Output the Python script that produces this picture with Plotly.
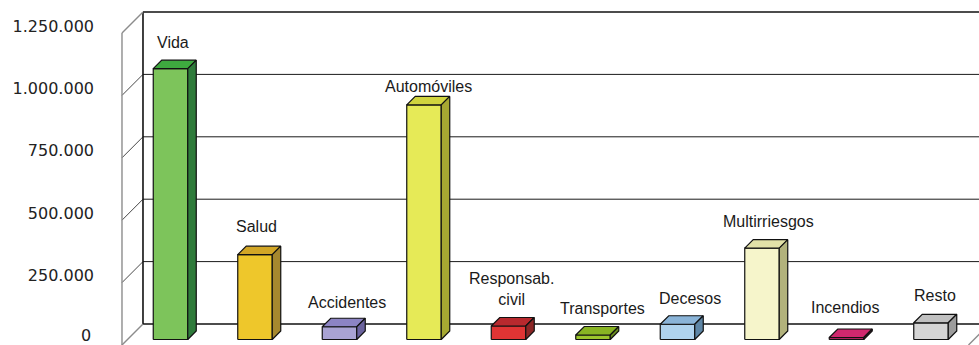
import plotly.graph_objects as go

# ---- data -------------------------------------------------------------
categories = ["Vida", "Salud", "Accidentes", "Automóviles", "Responsab.<br>civil",
              "Transportes", "Decesos", "Multirriesgos", "Incendios", "Resto"]
values = [1085000, 340000, 51000, 940000, 54000, 18000, 61000, 366000, 8000, 67000]
tick_values = [0, 250000, 500000, 750000, 1000000, 1250000]
tick_labels = ["0", "250.000", "500.000", "750.000", "1.000.000", "1.250.000"]

# ---- styling ----------------------------------------------------------
front_colors = ["#7DC45B", "#EEC72B", "#A9A3D3", "#E6EA57", "#E03434",
                "#9CC62C", "#AFD3EE", "#F6F5CB", "#B01E5E", "#D5D5D5"]
top_colors = ["#3EAA3F", "#D2A626", "#8C84C4", "#D0D43E", "#B8292E",
              "#88B423", "#8AB4D8", "#E2E1A8", "#D0286E", "#C0C0C0"]
side_colors = ["#2F7B3B", "#A6882E", "#6B639E", "#A6A832", "#8C2626",
               "#6A8B1E", "#5E86A6", "#B2B27C", "#9A1A52", "#9C9C9C"]
# pixel nudges for the category captions
label_dx = [2.5, 1.7, 7, 4.5, 2.5, 9, 12.5, 6, -1.5, 4]
label_dy = [26, 28, 24, 18.5, 37, 27, 26, 26.5, 30, 27.5]

W, H = 979, 345
M_L = 112                     # left margin (px)
PX_X = 84.5                   # px per category step
PX_Y = 312 / 1250000          # px per unit of value
CAT0_PIX = 53                 # px from plot left edge to category 0 (front plane)
WALL_DEPTH = 21               # px, oblique depth of the box
BAR_D1, BAR_D2 = 5.5, 14      # px, front/back depth of each bar
BAR_W = 34.5 / PX_X           # bar width in category units
PAD = 0.509                   # box padding beyond first/last category
TICK_FONT = dict(family="DejaVu Sans, sans-serif", size=16, color="#222222")

x_lo = -CAT0_PIX / PX_X
x_hi = x_lo + (W - M_L) / PX_X
y_hi = H / PX_Y
y_max = tick_values[-1]


def at(x, y, d):
    """Oblique projection: push a point d pixels back in depth."""
    return x + d / PX_X, y + d / PX_Y


def poly(points, d_list):
    xs, ys = [], []
    for (x, y), d in zip(points, d_list):
        px, py = at(x, y, d)
        xs.append(px)
        ys.append(py)
    xs.append(xs[0])
    ys.append(ys[0])
    return xs, ys


def line_trace(segments, color, width):
    xs, ys = [], []
    for seg in segments:
        for (x, y, d) in seg:
            px, py = at(x, y, d)
            xs.append(px)
            ys.append(py)
        xs.append(None)
        ys.append(None)
    return go.Scatter(x=xs, y=ys, mode="lines", line=dict(color=color, width=width),
                      hoverinfo="skip", showlegend=False)


fig = go.Figure()

xl = -PAD
xr = len(categories) - 1 + PAD

# back-wall gridlines and side-wall diagonals
inner = tick_values[1:-1]
fig.add_trace(line_trace([[(xl, v, WALL_DEPTH), (xr, v, WALL_DEPTH)] for v in inner], "#1a1a1a", 1))
fig.add_trace(line_trace([[(xl, v, 0), (xl, v, WALL_DEPTH)] for v in inner], "#333333", 0.9))
# outer frame of the box
fig.add_trace(line_trace([
    [(xl, 0, WALL_DEPTH), (xr, 0, WALL_DEPTH)],
    [(xl, y_max, WALL_DEPTH), (xr, y_max, WALL_DEPTH)],
    [(xl, 0, WALL_DEPTH), (xl, y_max, WALL_DEPTH)],
    [(xr, 0, WALL_DEPTH), (xr, y_max, WALL_DEPTH)],
], "#111111", 1.6))
fig.add_trace(line_trace([
    [(xl, 0, 0), (xl, y_max, 0)],
    [(xl, 0, 0), (xl, 0, WALL_DEPTH)],
    [(xl, y_max, 0), (xl, y_max, WALL_DEPTH)],
    [(xr, 0, 0), (xr, 0, WALL_DEPTH)],
], "#8c8c8c", 1.4))

# 3-D bars
half = BAR_W / 2
for i, v in enumerate(values):
    a, b = i - half, i + half
    faces = [
        ([(a, 0), (b, 0), (b, v), (a, v)], [BAR_D1] * 4, front_colors[i]),
        ([(a, v), (b, v), (b, v), (a, v)], [BAR_D1, BAR_D1, BAR_D2, BAR_D2], top_colors[i]),
        ([(b, 0), (b, v), (b, v), (b, 0)], [BAR_D1, BAR_D1, BAR_D2, BAR_D2], side_colors[i]),
    ]
    for pts, ds, col in faces:
        xs, ys = poly(pts, ds)
        fig.add_trace(go.Scatter(x=xs, y=ys, mode="lines", fill="toself", fillcolor=col,
                                 line=dict(color="#111111", width=1.2),
                                 hoverinfo="skip", showlegend=False))

# captions above the bars
for i, (name, v) in enumerate(zip(categories, values)):
    ax, ay = at(i, v, BAR_D1)
    fig.add_annotation(x=ax, y=ay, text=name, showarrow=False,
                       xanchor="center", yanchor="middle",
                       xshift=label_dx[i], yshift=label_dy[i],
                       font=dict(family="Liberation Sans, Arial, sans-serif", size=16, color="#1a1a1a"))

# the baseline label sits on the bottom edge, so it is lifted clear of it
fig.add_annotation(xref="paper", x=0, y=tick_values[0], text=tick_labels[0],
                   showarrow=False, xanchor="right", yanchor="middle",
                   xshift=-19, yshift=10, font=TICK_FONT)

fig.update_layout(
    width=W, height=H,
    margin=dict(l=M_L, r=0, t=0, b=0, autoexpand=False),
    paper_bgcolor="white", plot_bgcolor="white",
    showlegend=False, hovermode=False,
    xaxis=dict(range=[x_lo, x_hi], visible=False, fixedrange=True, automargin=False),
    yaxis=dict(range=[0, y_hi], tickvals=tick_values[1:], ticktext=tick_labels[1:],
               showgrid=False, zeroline=False, showline=False, ticks="",
               ticklabelstandoff=17, ticklabelshift=-7,
               fixedrange=True, automargin=False, tickfont=TICK_FONT),
)

fig.write_html("out.html")
